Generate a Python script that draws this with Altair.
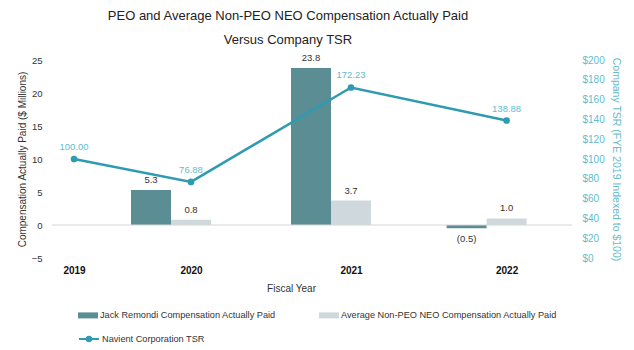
import altair as alt
import pandas as pd

years = [2019, 2020, 2021, 2022]
peo_cap = [None, 5.3, 23.8, -0.5]
neo_cap = [None, 0.8, 3.7, 1.0]
tsr = [100.00, 76.88, 172.23, 138.88]

PEO_NAME = "Jack Remondi Compensation Actually Paid"
NEO_NAME = "Average Non-PEO NEO Compensation Actually Paid"
TSR_NAME = "Navient Corporation TSR"

DARK = "#5b8d95"
LIGHT = "#cfd9dd"
LINE = "#2f9bb1"
LINE_TXT = "#62bccd"
FONT = "Liberation Sans"

rows = []
for y, p, n in zip(years, peo_cap, neo_cap):
    if p is not None:
        rows.append({"year": y, "series": PEO_NAME, "value": p})
    if n is not None:
        rows.append({"year": y, "series": NEO_NAME, "value": n})
bars_df = pd.DataFrame(rows)
tsr_df = pd.DataFrame({"year": years, "tsr": tsr, "series": TSR_NAME})

xscale = alt.Scale(domain=[2019, 2020, 2021, 2022], range=[18, 139, 299, 460], nice=False, zero=False)
x_axis = alt.Axis(values=years, format="d", title="Fiscal Year", labelFontWeight="bold",
                  labelColor="#111", labelFontSize=10, titleFontSize=10, titleFontWeight="normal",
                  titleColor="#333", domain=False, ticks=False, grid=False, labelPadding=7,
                  titlePadding=8, labelFont=FONT, titleFont=FONT, labelOverlap=False)
X = alt.X("year:Q", scale=xscale, axis=x_axis)

yscale = alt.Scale(domain=[-5, 25], nice=False, zero=False)
y_axis = alt.Axis(values=[-5, 0, 5, 10, 15, 20, 25], title="Compensation Actually Paid ($ Millions)",
                  labelFontSize=9.5, labelColor="#333", titleFontSize=10, titleFontWeight="normal",
                  titleColor="#333", domain=False, ticks=False, grid=False, labelPadding=10,
                  titlePadding=4, labelFont=FONT, titleFont=FONT, labelOverlap=False)
Y = alt.Y("value:Q", scale=yscale, axis=y_axis)

fill_scale = alt.Scale(domain=[PEO_NAME, NEO_NAME], range=[DARK, LIGHT])
fill_legend = alt.Legend(
    title=None, orient="none", legendX=26, legendY=245, direction="horizontal", columns=2,
    columnPadding=43, symbolType="M-1,-0.3H1V0.3H-1Z", symbolSize=400, symbolStrokeWidth=0,
    labelFontSize=9.2, labelColor="#333", labelFont=FONT, labelOffset=2, labelLimit=400)
F = alt.Fill("series:N", scale=fill_scale, legend=fill_legend)

base_bars = alt.Chart(bars_df)

peo_bars = base_bars.transform_filter(alt.datum.series == PEO_NAME).mark_bar(
    width=40, xOffset=-40, orient="vertical").encode(x=X, y=Y, fill=F)
neo_bars = base_bars.transform_filter(alt.datum.series == NEO_NAME).mark_bar(
    width=40, xOffset=0, orient="vertical").encode(x=X, y=Y, fill=F)

lbl = base_bars.transform_calculate(
    lab="datum.value < 0 ? '(' + format(-datum.value, '.1f') + ')' : format(datum.value, '.1f')")
txt = dict(fontSize=9.5, color="#333", font=FONT, fontWeight="normal")

peo_pos = lbl.transform_filter((alt.datum.series == PEO_NAME) & (alt.datum.value >= 0)).mark_text(
    xOffset=-40, dy=-5, baseline="bottom", **txt).encode(x=X, y=Y, text="lab:N")
peo_neg = lbl.transform_filter((alt.datum.series == PEO_NAME) & (alt.datum.value < 0)).mark_text(
    xOffset=-40, dy=6, baseline="top", **txt).encode(x=X, y=Y, text="lab:N")
neo_lab = lbl.transform_filter(alt.datum.series == NEO_NAME).mark_text(
    dy=-5, baseline="bottom", **txt).encode(x=X, y=Y, text="lab:N")

zero_rule = alt.Chart(pd.DataFrame({"value": [0]})).mark_rule(color="#d6d6d6", strokeWidth=1).encode(
    y=Y)

left_layer = alt.layer(peo_bars, neo_bars, zero_rule, peo_pos, peo_neg, neo_lab)

y2scale = alt.Scale(domain=[0, 200], nice=False, zero=False)
y2_axis = alt.Axis(orient="right", values=list(range(0, 201, 20)), format="$,.0f",
                   title="Company TSR (FYE 2019 Indexed to $100)", labelColor=LINE_TXT,
                   titleColor=LINE_TXT, labelFontSize=10, titleFontSize=10.5, titleFontWeight="normal",
                   domain=False, ticks=False, grid=False, labelPadding=10, titlePadding=6,
                   labelFont=FONT, titleFont=FONT, labelOverlap=False)
Y2 = alt.Y("tsr:Q", scale=y2scale, axis=y2_axis)

tsr_base = alt.Chart(tsr_df)
tsr_line = tsr_base.mark_line(strokeWidth=2.5, point=alt.OverlayMarkDef(size=22, filled=True, color=LINE)).encode(
    x=X, y=Y2,
    stroke=alt.Stroke("series:N", scale=alt.Scale(domain=[TSR_NAME], range=[LINE]), legend=alt.Legend(
        title=None, orient="none", legendX=26, legendY=268,
        symbolType="M-1,0H1M-0.22,0A0.22,0.22 0 1,0 0.22,0A0.22,0.22 0 1,0 -0.22,0Z",
        symbolSize=400, symbolStrokeWidth=2, symbolFillColor=LINE, symbolStrokeColor=LINE,
        labelFontSize=9.2, labelColor="#333", labelFont=FONT, labelOffset=2, labelLimit=400)),
)
tsr_text = tsr_base.mark_text(dy=-7, baseline="bottom", fontSize=9.5, color=LINE_TXT, font=FONT,
                              fontWeight="normal").encode(
    x=X, y=Y2, text=alt.Text("tsr:Q", format=".2f"))
right_layer = alt.layer(tsr_line, tsr_text)

chart = alt.layer(left_layer, right_layer).resolve_scale(y="independent").properties(
    width=520, height=198,
    autosize=alt.AutoSizeParams(type="none"),
    padding={"left": 52, "top": 60, "right": 62, "bottom": 92},
    title=alt.TitleParams(
        text=["PEO and Average Non-PEO NEO Compensation Actually Paid", "Versus Company TSR"],
        fontSize=13, font=FONT, fontWeight="normal", color="#222", anchor="middle",
        lineHeight=24, offset=6, dx=-24),
).configure(background="white").configure_view(stroke=None, strokeWidth=0)

chart.save("out.html", embed_options={"renderer": "svg", "actions": False})
